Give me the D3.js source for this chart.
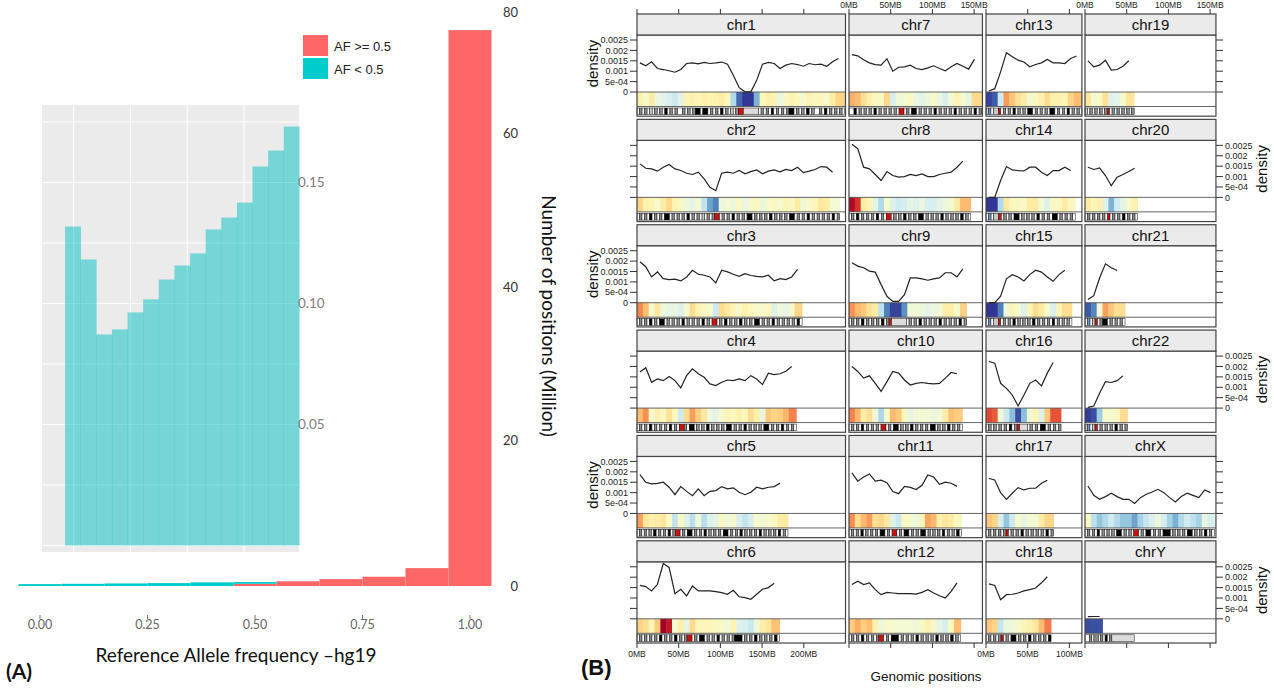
<!DOCTYPE html>
<html>
<head>
<meta charset="utf-8">
<script src="https://cdn.jsdelivr.net/npm/d3@7"></script>
<style>
  body { margin: 0; background: #fff; }
</style>
</head>
<body>
<svg id="chart" width="1274" height="688"></svg>
<script>
// ---------- (A) allele frequency histogram ----------
const afBinCenters = [0, 0.1, 0.2, 0.3, 0.4, 0.5, 0.6, 0.7, 0.8, 0.9, 1.0];
const afHighMillion = [0, 0, 0, 0, 0, 0.3, 0.65, 0.95, 1.27, 2.45, 77];   // AF >= 0.5
const afLowMillion  = [0.26, 0.3, 0.35, 0.4, 0.5, 0.25, 0, 0, 0, 0, 0];   // AF < 0.5
const afXTicks = [0, 0.25, 0.5, 0.75, 1];
const afYTicks = [0, 20, 40, 60, 80];
const legendLabels = ["AF >= 0.5", "AF < 0.5"];

// inset: AF < 0.5 only
const insetBinStarts = [0.085, 0.1125, 0.14, 0.1675, 0.195, 0.2225, 0.25, 0.2775, 0.305, 0.3325, 0.36, 0.3875, 0.415, 0.4425, 0.47];
const insetBinWidth = 0.0275;
const insetFreq = [0.1318, 0.1182, 0.0872, 0.0893, 0.0963, 0.1017, 0.1099, 0.1157, 0.1207, 0.1306, 0.1355, 0.1417, 0.1566, 0.1632, 0.1731];
const insetYLabels = [0.05, 0.10, 0.15];

// ---------- (B) density per chromosome ----------
const chrNames = ["chr1","chr2","chr3","chr4","chr5","chr6","chr7","chr8","chr9","chr10","chr11","chr12",
  "chr13","chr14","chr15","chr16","chr17","chr18","chr19","chr20","chr21","chr22","chrX","chrY"];
const chrLengthMB = [249,243,198,191,181,171,159,146,141,136,135,134,115,107,103,90,81,78,59,63,48,51,155,59];
const windowMB = 7;
// density (x 1e-4) in consecutive 7MB windows
const chrDensity = [
  [14.0,12.6,14.5,11.3,10.8,10.2,9.5,10.8,13.7,14.0,13.5,14.2,13.7,14.0,14.4,13.4,8.1,2.1,0.1,0.1,5.6,13.4,14.2,13.7,11.3,12.9,13.7,13.2,12.4,13.7,13.1,13.4,12.4,14.5,16.1],
  [16.1,14.0,13.7,12.6,14.5,15.8,13.7,12.9,11.6,11.0,12.1,8.9,4.8,3.2,11.6,12.1,11.6,12.9,11.3,12.4,13.2,11.3,12.6,13.2,12.3,13.4,12.9,14.5,11.9,12.6,13.4,14.8,14.5,12.1],
  [19.7,17.3,12.4,14.8,11.6,11.1,11.3,10.5,12.4,15.6,13.7,13.2,12.4,9.5,15.6,14.8,13.7,12.7,14.0,13.1,12.7,12.4,13.2,10.5,11.6,11.1,12.4,16.0],
  [17.3,19.4,12.4,14.0,13.2,15.2,13.2,9.7,15.6,18.9,16.5,14.8,11.6,10.8,12.4,13.5,13.2,14.0,13.2,15.6,14.0,11.3,16.8,16.1,16.5,17.7,20.0],
  [18.7,15.0,14.2,14.5,15.0,12.6,9.0,12.9,10.6,8.5,11.8,8.5,10.6,11.0,12.9,11.8,12.3,10.2,9.0,10.2,12.6,11.8,12.6,12.9,14.5],
  [16.1,15.5,13.4,16.6,26.6,24.7,12.1,14.2,11.0,15.8,13.4,13.4,13.4,13.1,12.6,11.8,13.7,10.6,10.2,9.4,11.8,14.2,15.0,17.1],
  [18.0,17.4,15.5,14.0,13.2,12.9,16.0,10.0,11.9,12.1,12.9,11.3,10.8,11.6,12.6,11.3,10.2,12.1,13.7,12.4,11.0,15.8],
  [25.5,23.4,14.5,13.7,11.0,8.1,12.4,10.5,9.7,10.0,11.0,10.5,11.3,10.0,10.0,11.0,11.6,12.1,14.5,17.4],
  [19.2,17.6,16.8,15.2,14.7,8.7,3.1,0.6,0.6,3.9,11.9,11.9,11.5,10.8,11.5,11.9,14.4,14.4,12.4,16.3],
  [20.0,17.6,14.4,15.5,11.9,8.0,12.7,17.6,16.8,13.5,11.1,11.9,12.3,11.9,11.6,11.9,14.4,17.1,16.5],
  [19.5,15.5,17.5,19.0,15.5,16.0,14.8,10.5,9.5,13.0,12.5,11.5,13.5,18.5,17.5,14.0,15.0,14.5,13.0],
  [16.5,18.1,16.5,17.3,14.0,11.6,12.7,12.4,12.1,12.1,12.1,11.9,12.7,14.0,12.4,11.1,10.0,13.2,17.3],
  [0.5,1.6,9.7,18.9,16.9,15.3,14.4,12.1,13.2,14.0,15.6,14.0,14.0,13.7,16.1,17.3],
  [0.0,0.0,8.1,14.8,13.2,12.9,12.7,14.5,14.5,12.1,10.5,12.9,12.9,14.5,12.9],
  [0.0,0.0,3.1,11.5,13.5,12.4,10.5,13.5,15.6,14.7,12.4,10.3,13.5,15.6],
  [22.4,21.6,11.9,9.5,6.3,1.0,6.3,11.9,13.5,10.6,16.8,21.9],
  [16.8,16.1,10.0,6.8,9.7,12.4,11.3,12.1,12.1,14.5,16.0],
  [16.8,16.0,9.2,11.6,11.8,12.4,13.4,14.0,14.8,17.3,20.2],
  [15.0,12.1,12.9,15.3,10.5,10.8,12.4,15.0],
  [14.5,13.4,14.2,10.5,5.6,9.7,11.0,12.4,14.0],
  [1.5,3.4,11.9,18.7,16.8,15.5],
  [0.3,1.0,7.1,12.7,12.3,13.2,15.5],
  [13.2,8.7,6.8,8.1,9.7,8.1,6.8,6.8,4.8,7.6,9.2,10.3,11.6,10.0,7.6,5.5,8.1,9.7,8.7,7.6,11.3,10.0],
  [1.0,1.1,1.1]
];
// cytoband stains along each chromosome (. neg, - gpos50, = gpos25, # gpos100, c centromere, h heterochromatin, s stalk)
const chrBands = [
  ".-.-.=.-.-.#.-.-..-.-.-##.##.-.-.#.-.=.-cchhhhhh.-.-.#.-.-.-##.-.-.#.-..-.#.-.-.-.",
  ".-.-.#.-.-.##.-.-.-.#.-.-.=.-.-cc.-.-.#.-.-.##.-.-.-.#.-.-.-.##.-.-.#.-.-.-.-.#.-",
  ".-.-.#.-.##.-.-.-.#.-.-.-.#.-.cc.-.#.-.-.#.-.-.##.-.-.#.-.-.-.-.#.",
  ".-.-.#.-.-.-.#.-.cc-.##.-.-.#.-.-.-.##.-.-.#.-.-.-.##.-.-.#.-.-.",
  ".-.-.-.#.-.-.#.-cc.-.##.-.-.#.-.-.-.##.-.-.#.-.-.-.#.-.-.-.#.-.",
  ".-.-.-.-.#.-.-.#.-.-cc.-.##.-.-.#.-.-.-###.-.-.#.-.-.-.#.",
  "..#.-.-.-.#.-.-.-.-.cc.-.##.-.-.-.#.-.-.-.#.-.-.-.#.-",
  ".-.#.-.-.-.#.-.cc.-.-.#.-.-.##.-.-.-.#.-.-.-.#.-.",
  ".-.-.#.-.-.-.#.-chhhhhh.-.-.#.-.-.-.#.-.-.-.#.-",
  ".-.-.#.-.-.-.cc.-.##.-.-.#.-.-.-.##.-.-.#.-.-.",
  ".-.-.#.-.-.-.##.-.cc.-.##.-.-.##.-.-.-.#.-.-.#.",
  ".-.-.#.-.-.-cc.-.###.-.-.-.#.-.-.-.#.-.-.#.-.",
  "=s.==c.-.-.#.-.-.##.-.-.-.##.-.-.#.-.-.",
  ".s.==c.-.-.##.-.-.-.#.-.-.##.-.-.-.",
  ".s.==c.-.-.#.-.-.-.#.-.-.-.#.-.-.-.",
  ".-.-.-.-.#.-chhh.-.-.##.-.-.-",
  ".-.-.-.-c.-.-.#.-.-.-.-.#.-",
  ".-.-.-c.-.##.-.-.#.-.-.-.#",
  "=.-.-.-.-c.-.-.-.-.-",
  ".-.-.-.-.c.-.-.#.-.-.",
  ".s.=c.-##.-.-.-.",
  "=s.=c.-.-.-.#.-.-",
  ".-.-.#.-.-.-.##.-.-.cc.-.##.-.-.###.-.-.-.##.-.-.#.-.",
  "..-.--.-.#.-hhhhhhhhhh"
];
const densityTicks = [0, 5, 10, 15, 20, 25];
const densityTickLabels = ["0", "5e-04", "0.001", "0.0015", "0.002", "0.0025"];
const mbTicks = [0, 50, 100, 150, 200];

const svg = d3.select("#chart");

// ================= panel A =================
const A = svg.append("g").attr("font-family", "Lato, 'Open Sans', sans-serif");
const xA = d3.scaleLinear().domain([0, 1]).range([40, 470]);
const yA = d3.scaleLinear().domain(afYTicks).range([586, 440, 287, 133, 12]);

const afRows = afBinCenters.map((c, i) => ({ c, high: afHighMillion[i], low: afLowMillion[i] }));
const afStack = d3.stack().keys(["high", "low"])(afRows);
const afColor = { high: "#ff6666", low: "#00cccc" };

A.append("g").selectAll("g").data(afStack).join("g")
  .attr("fill", d => afColor[d.key])
  .selectAll("rect").data(d => d.filter(s => s[1] > s[0])).join("rect")
    .attr("x", d => xA(d.data.c - 0.05))
    .attr("width", d => xA(d.data.c + 0.05) - xA(d.data.c - 0.05))
    .attr("y", d => yA(d[1]))
    .attr("height", d => yA(d[0]) - yA(d[1]));

// x axis (bottom)
A.append("g").selectAll("line").data(afXTicks).join("line")
  .attr("x1", d => xA(d)).attr("x2", d => xA(d)).attr("y1", 615).attr("y2", 619)
  .attr("stroke", "#777").attr("stroke-width", 1);
A.append("g").selectAll("text").data(afXTicks).join("text")
  .attr("x", d => xA(d)).attr("y", 625).attr("dy", "0.35em")
  .attr("text-anchor", "middle").attr("font-size", 12.5).attr("fill", "#666")
  .text(d3.format(".2f"));

// y axis (right)
A.append("g").selectAll("text").data(afYTicks).join("text")
  .attr("x", 518).attr("y", d => yA(d)).attr("dy", "0.35em")
  .attr("text-anchor", "end").attr("font-size", 13).attr("fill", "#333")
  .text(d => d);

A.append("text")
  .attr("transform", "translate(549,316) rotate(90)")
  .attr("text-anchor", "middle").attr("dy", "0.35em")
  .attr("font-size", 19).attr("fill", "#111")
  .text("Number of positions  (Million)");

A.append("text")
  .attr("x", 236).attr("y", 655).attr("dy", "0.35em")
  .attr("text-anchor", "middle").attr("font-size", 19).attr("fill", "#111")
  .text("Reference Allele frequency \u2013hg19");

A.append("text")
  .attr("x", 6).attr("y", 672).attr("dy", "0.35em")
  .attr("font-size", 21).attr("font-weight", "bold").attr("fill", "#111")
  .text("(A)");

// inset
const xIn = d3.scaleLinear().domain([0.1, 0.4]).range([73.6, 244]);
const yIn = d3.scaleLinear().domain([0, 0.05]).range([545.5, 424.5]);
const inset = A.append("g");
inset.append("rect").attr("x", 42).attr("y", 105).attr("width", 257).attr("height", 447).attr("fill", "#ebebeb");
inset.append("g").selectAll("line").data(d3.range(0, 0.176, 0.025)).join("line")
  .attr("x1", 42).attr("x2", 299).attr("y1", d => yIn(d)).attr("y2", d => yIn(d))
  .attr("stroke", "#fff").attr("stroke-width", 1.1);
inset.append("g").selectAll("line").data(xIn.ticks(4)).join("line")
  .attr("x1", d => xIn(d)).attr("x2", d => xIn(d)).attr("y1", 105).attr("y2", 552)
  .attr("stroke", "#fff").attr("stroke-width", 1.1);
inset.append("g").selectAll("rect").data(insetBinStarts).join("rect")
  .attr("x", d => xIn(d))
  .attr("width", d => xIn(d + insetBinWidth) - xIn(d) + 0.3)
  .attr("y", (d, i) => yIn(insetFreq[i]))
  .attr("height", (d, i) => yIn(0) - yIn(insetFreq[i]))
  .attr("fill", "#00bfc4").attr("fill-opacity", 0.5);
inset.append("g").selectAll("text").data(insetYLabels).join("text")
  .attr("x", 298).attr("y", d => yIn(d)).attr("dy", "0.35em")
  .attr("font-size", 13.5).attr("fill", "#808080")
  .text(d3.format(".2f"));

// legend
const legend = A.append("g").attr("font-family", "'Liberation Sans', Arial, sans-serif");
legendLabels.forEach((lab, i) => {
  legend.append("rect").attr("x", 303).attr("y", 35 + i * 23).attr("width", 25).attr("height", 21)
    .attr("fill", i === 0 ? afColor.high : afColor.low);
  legend.append("text").attr("x", 334).attr("y", 46 + i * 23).attr("dy", "0.35em")
    .attr("font-size", 13).attr("fill", "#222").text(lab);
});

// ================= panel B =================
const B = svg.append("g").attr("font-family", "'Liberation Sans', Arial, sans-serif");
const colLeft = [637, 849, 986, 1085];
const colSpanMB = [250, 160, 115, 157];
const pxPerMB = 0.834;
const xCol = colLeft.map((l, i) => d3.scaleLinear().domain([0, colSpanMB[i]]).range([l, l + colSpanMB[i] * pxPerMB]));
const rowBand = d3.scaleBand().domain(d3.range(6)).range([14, 643]).paddingInner(0.03);
const bw = rowBand.bandwidth();
const stripH = 21, zeroOff = 78, heatOff = 92.5;
const heatColor = d3.scaleSequential(t => d3.interpolateRdYlBu(1 - t)).domain([0, 26]).clamp(true);
const bandFill = { ".": "#ffffff", "-": "#8c8c8c", "=": "#c8c8c8", "#": "#000000", "c": "#cc1111", "h": "#dcdcdc", "s": "#6b9bd1" };
const yRow = row => d3.scaleLinear().domain([0, 25]).range([rowBand(row) + zeroOff, rowBand(row) + 26]);

chrNames.forEach((name, i) => {
  const col = Math.floor(i / 6), row = i % 6;
  const x = xCol[col], y = yRow(row);
  const top = rowBand(row);
  const [x0, x1] = x.range();
  const len = chrLengthMB[i];
  const pts = chrDensity[i].map((v, j) => ({ v, j }));
  const g = B.append("g");

  // heat strip
  g.selectAll("rect.heat").data(pts).join("rect")
    .attr("x", d => x(d.j * windowMB))
    .attr("width", d => {
      let end = Math.min((d.j + 1) * windowMB, len);
      if (d.j === pts.length - 1 && len - end < windowMB) end = len;
      return x(end) - x(d.j * windowMB) + 0.4;
    })
    .attr("y", top + zeroOff).attr("height", heatOff - zeroOff)
    .attr("fill", d => heatColor(d.v));

  // cytoband rug
  const str = chrBands[i], cell = len / str.length, runs = [];
  for (let k = 0; k < str.length; ) {
    let m = k;
    while (m < str.length && str[m] === str[k]) m++;
    runs.push({ code: str[k], s: k * cell, e: m * cell });
    k = m;
  }
  g.selectAll("rect.band").data(runs).join("rect")
    .attr("x", d => x(d.s)).attr("width", d => x(d.e) - x(d.s))
    .attr("y", top + heatOff + 1.5).attr("height", bw - heatOff - 3)
    .attr("fill", d => bandFill[d.code]).attr("stroke", "#111").attr("stroke-width", 0.5);

  // separators
  g.append("line").attr("x1", x0).attr("x2", x1).attr("y1", y(0)).attr("y2", y(0))
    .attr("stroke", "#555").attr("stroke-width", 0.9);
  g.append("line").attr("x1", x0).attr("x2", x1).attr("y1", top + heatOff).attr("y2", top + heatOff)
    .attr("stroke", "#555").attr("stroke-width", 0.9);

  // density line
  g.append("path").datum(pts)
    .attr("d", d3.line().x(d => x((d.j + 0.5) * windowMB)).y(d => y(d.v)))
    .attr("fill", "none").attr("stroke", "#222").attr("stroke-width", 1.2);

  // panel + strip
  g.append("rect").attr("x", x0).attr("y", top + stripH).attr("width", x1 - x0).attr("height", bw - stripH)
    .attr("fill", "none").attr("stroke", "#444").attr("stroke-width", 1.2);
  g.append("rect").attr("x", x0).attr("y", top).attr("width", x1 - x0).attr("height", stripH)
    .attr("fill", "#ebebeb").attr("stroke", "#444").attr("stroke-width", 1.2);
  g.append("text").attr("x", (x0 + x1) / 2).attr("y", top + stripH / 2).attr("dy", "0.36em")
    .attr("text-anchor", "middle").attr("font-size", 15).attr("fill", "#111").text(name);
});

// y axes (left on col 1, right on col 4, labels alternate)
d3.range(6).forEach(row => {
  const y = yRow(row);
  const leftLab = row % 2 === 0;
  B.append("g").selectAll("line").data(densityTicks).join("line")
    .attr("x1", 630).attr("x2", 637).attr("y1", d => y(d)).attr("y2", d => y(d))
    .attr("stroke", "#333");
  B.append("g").selectAll("line").data(densityTicks).join("line")
    .attr("x1", 1216).attr("x2", 1223).attr("y1", d => y(d)).attr("y2", d => y(d))
    .attr("stroke", "#333");
  const labX = leftLab ? 628 : 1225;
  B.append("g").selectAll("text").data(densityTicks).join("text")
    .attr("x", labX).attr("y", d => y(d)).attr("dy", "0.35em")
    .attr("text-anchor", leftLab ? "end" : "start")
    .attr("font-size", 9).attr("fill", "#222")
    .text((d, k) => densityTickLabels[k]);
  const cy = (y(0) + rowBand(row) + stripH) / 2;
  B.append("text")
    .attr("transform", `translate(${leftLab ? 593 : 1262},${cy}) rotate(-90)`)
    .attr("text-anchor", "middle").attr("dy", "0.35em")
    .attr("font-size", 15).attr("fill", "#111").text("density");
});

// x axes (top and bottom, labels alternate)
const topY = rowBand(0), botY = rowBand(5) + bw;
xCol.forEach((x, c) => {
  const ticks = mbTicks.filter(t => t <= colSpanMB[c]);
  B.append("g").selectAll("line").data(ticks).join("line")
    .attr("x1", d => x(d)).attr("x2", d => x(d)).attr("y1", topY).attr("y2", topY - 5)
    .attr("stroke", "#333");
  B.append("g").selectAll("line").data(ticks).join("line")
    .attr("x1", d => x(d)).attr("x2", d => x(d)).attr("y1", botY).attr("y2", botY + 5)
    .attr("stroke", "#333");
  const onTop = c % 2 === 1;
  B.append("g").selectAll("text").data(ticks).join("text")
    .attr("x", d => x(d)).attr("y", onTop ? 5 : botY + 11).attr("dy", "0.35em")
    .attr("text-anchor", "middle").attr("font-size", 8.5).attr("fill", "#222")
    .text(d => d + "MB");
});

B.append("text").attr("x", 926).attr("y", 676).attr("dy", "0.35em")
  .attr("text-anchor", "middle").attr("font-size", 13.5).attr("fill", "#111")
  .text("Genomic positions");
B.append("text").attr("x", 581).attr("y", 667).attr("dy", "0.35em")
  .attr("font-size", 22).attr("font-weight", "bold").attr("fill", "#111")
  .text("(B)");
</script>
</body>
</html>
